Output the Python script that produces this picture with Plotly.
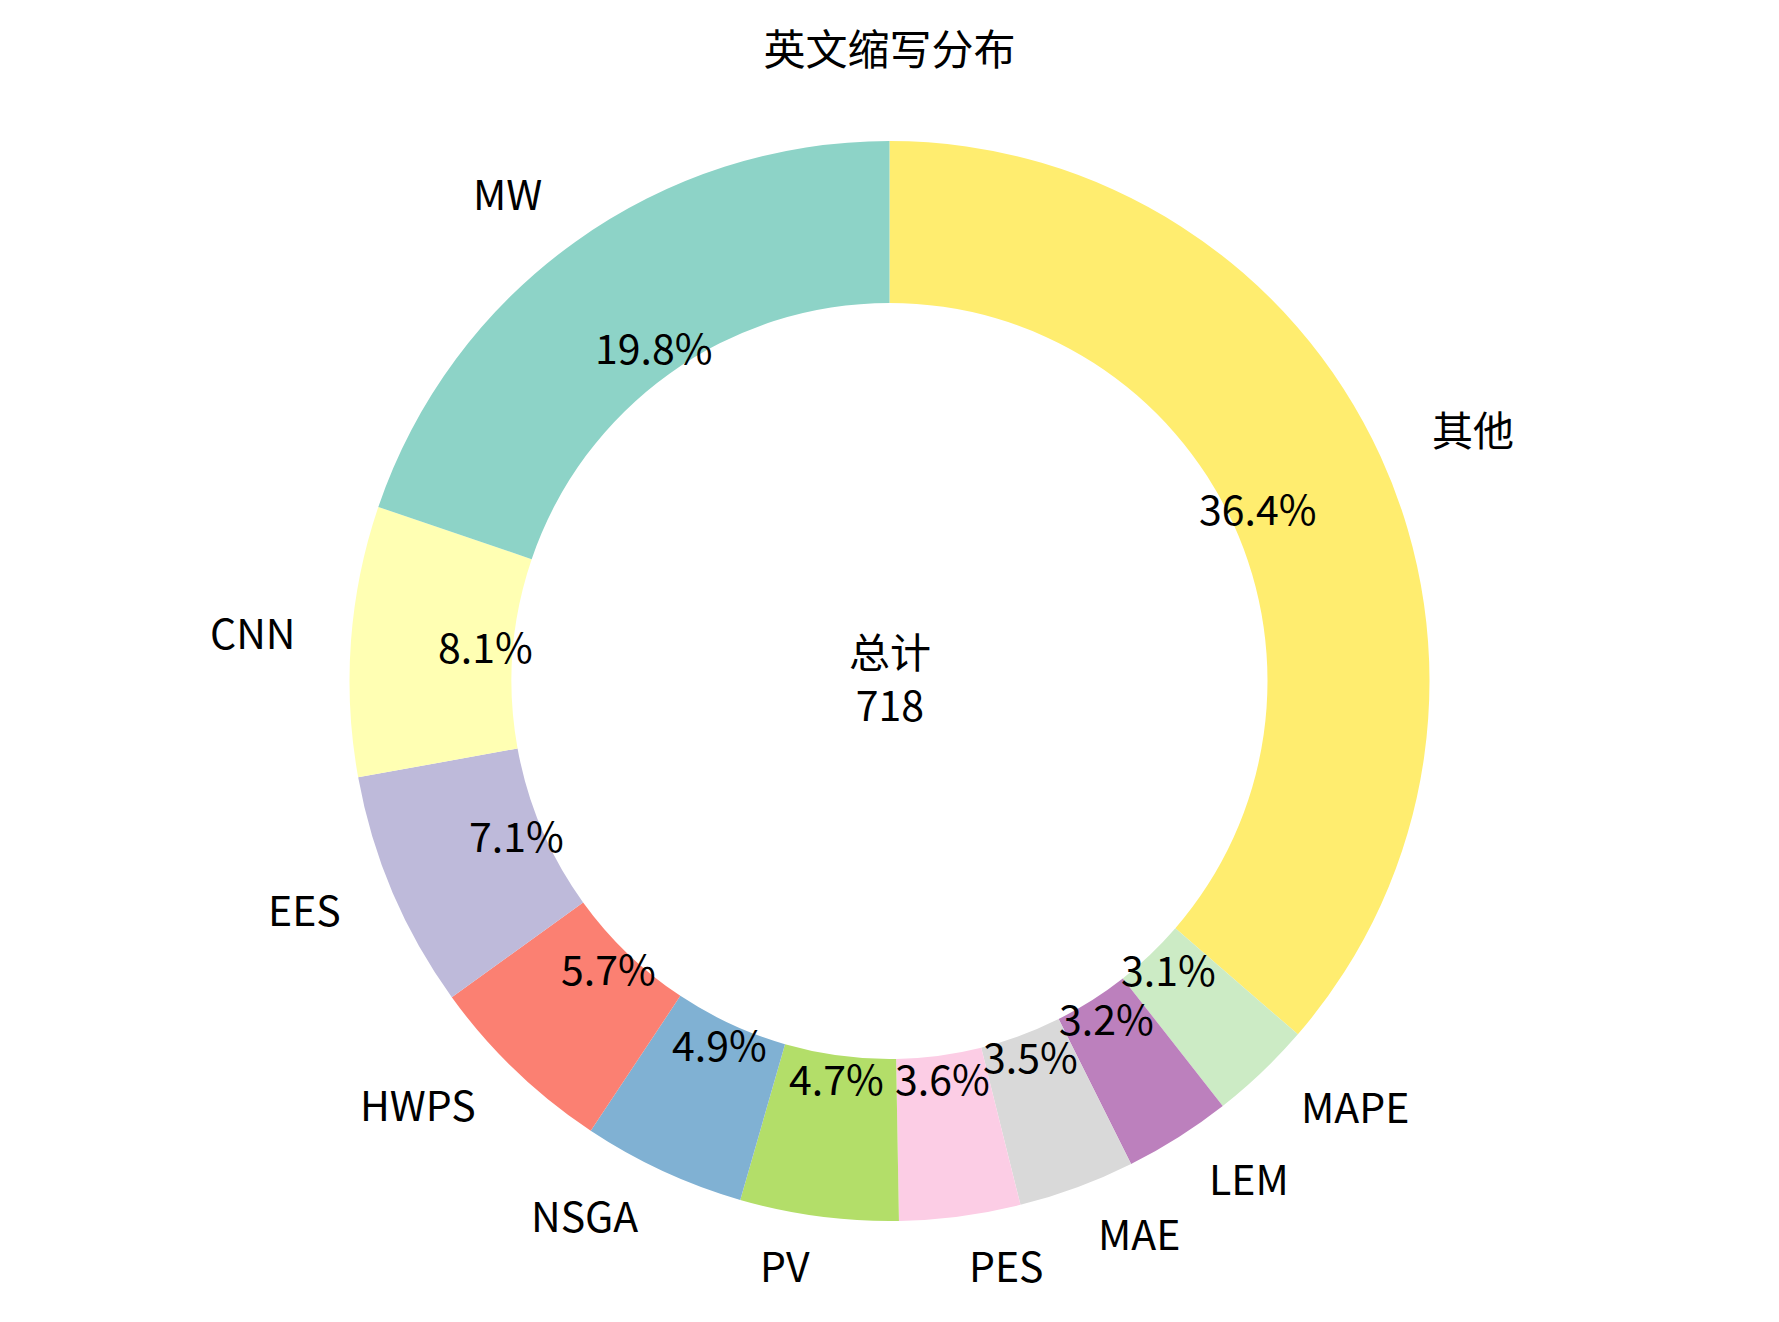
import numpy as np
import plotly.graph_objects as go

# data (counter-clockwise from 12 o'clock)
labels = ['MW', 'CNN', 'EES', 'HWPS', 'NSGA', 'PV', 'PES', 'MAE', 'LEM', 'MAPE', '其他']
counts = [142, 58, 51, 41, 35, 34, 26, 25, 23, 22, 261]
colors = ['#8dd3c7', '#ffffb3', '#bebada', '#fb8072', '#80b1d3', '#b3de69',
          '#fccde5', '#d9d9d9', '#bc80bd', '#ccebc5', '#ffed6f']

W, H = 1779, 1322
# the page body has an 8px margin, so pull everything back by 8px
cx, cy, R = 881.5, 673.0, 540.0   # centre and outer radius in pixels
txt_dy = 6   # plotly's middle anchor sits a little lower than matplotlib's
font = 'Noto Sans CJK SC'
fsize = 41

total = sum(counts)
fig = go.Figure()
# plotly's clockwise order from 12 o'clock == reversed counter-clockwise order
fig.add_trace(go.Pie(
    labels=labels[::-1], values=counts[::-1], sort=False,
    direction='clockwise', rotation=0, hole=0.7,
    marker=dict(colors=colors[::-1], line=dict(width=0)),
    textinfo='none', hoverinfo='label+value+percent',
    domain=dict(x=[(cx - R) / W, (cx + R) / W],
                y=[(H - cy - R) / H, (H - cy + R) / H]),
    showlegend=False,
))

# label (outside) and percent (inside) positions, matplotlib style
cum = np.cumsum([0] + counts[:-1])
annos = []
for lab, c, s in zip(labels, counts, cum):
    ang = np.deg2rad(90 + (s + c / 2) / total * 360)
    ca, sa = np.cos(ang), np.sin(ang)
    # outer label at 1.1 R
    xl = cx + 1.1 * R * ca
    yl = cy - 1.1 * R * sa - txt_dy
    annos.append(dict(
        x=xl / W, y=1 - yl / H, xref='paper', yref='paper',
        text=lab, showarrow=False,
        xanchor='right' if ca < 0 else 'left', yanchor='middle',
        font=dict(family=font, size=fsize, color='black'),
    ))
    # percent at 0.75 R
    xp = cx + 0.75 * R * ca
    yp = cy - 0.75 * R * sa - txt_dy
    annos.append(dict(
        x=xp / W, y=1 - yp / H, xref='paper', yref='paper',
        text='%.1f%%' % (100.0 * c / total), showarrow=False,
        xanchor='center', yanchor='middle',
        font=dict(family=font, size=fsize, color='black'),
    ))

annos.append(dict(
    x=cx / W, y=1 - (cy - 4) / H, xref='paper', yref='paper',
    text='总计<br>%d' % total, showarrow=False,
    xanchor='center', yanchor='middle',
    font=dict(family=font, size=fsize, color='black'),
))

fig.update_layout(
    width=W, height=H,
    margin=dict(l=0, r=0, t=0, b=0),
    paper_bgcolor='white', plot_bgcolor='white',
    title=dict(text='英文缩写分布', x=cx / W, xanchor='center',
               y=1 - 42 / H, yanchor='middle',
               font=dict(family=font, size=42, color='black')),
    annotations=annos,
)

fig.write_html('out.html')
